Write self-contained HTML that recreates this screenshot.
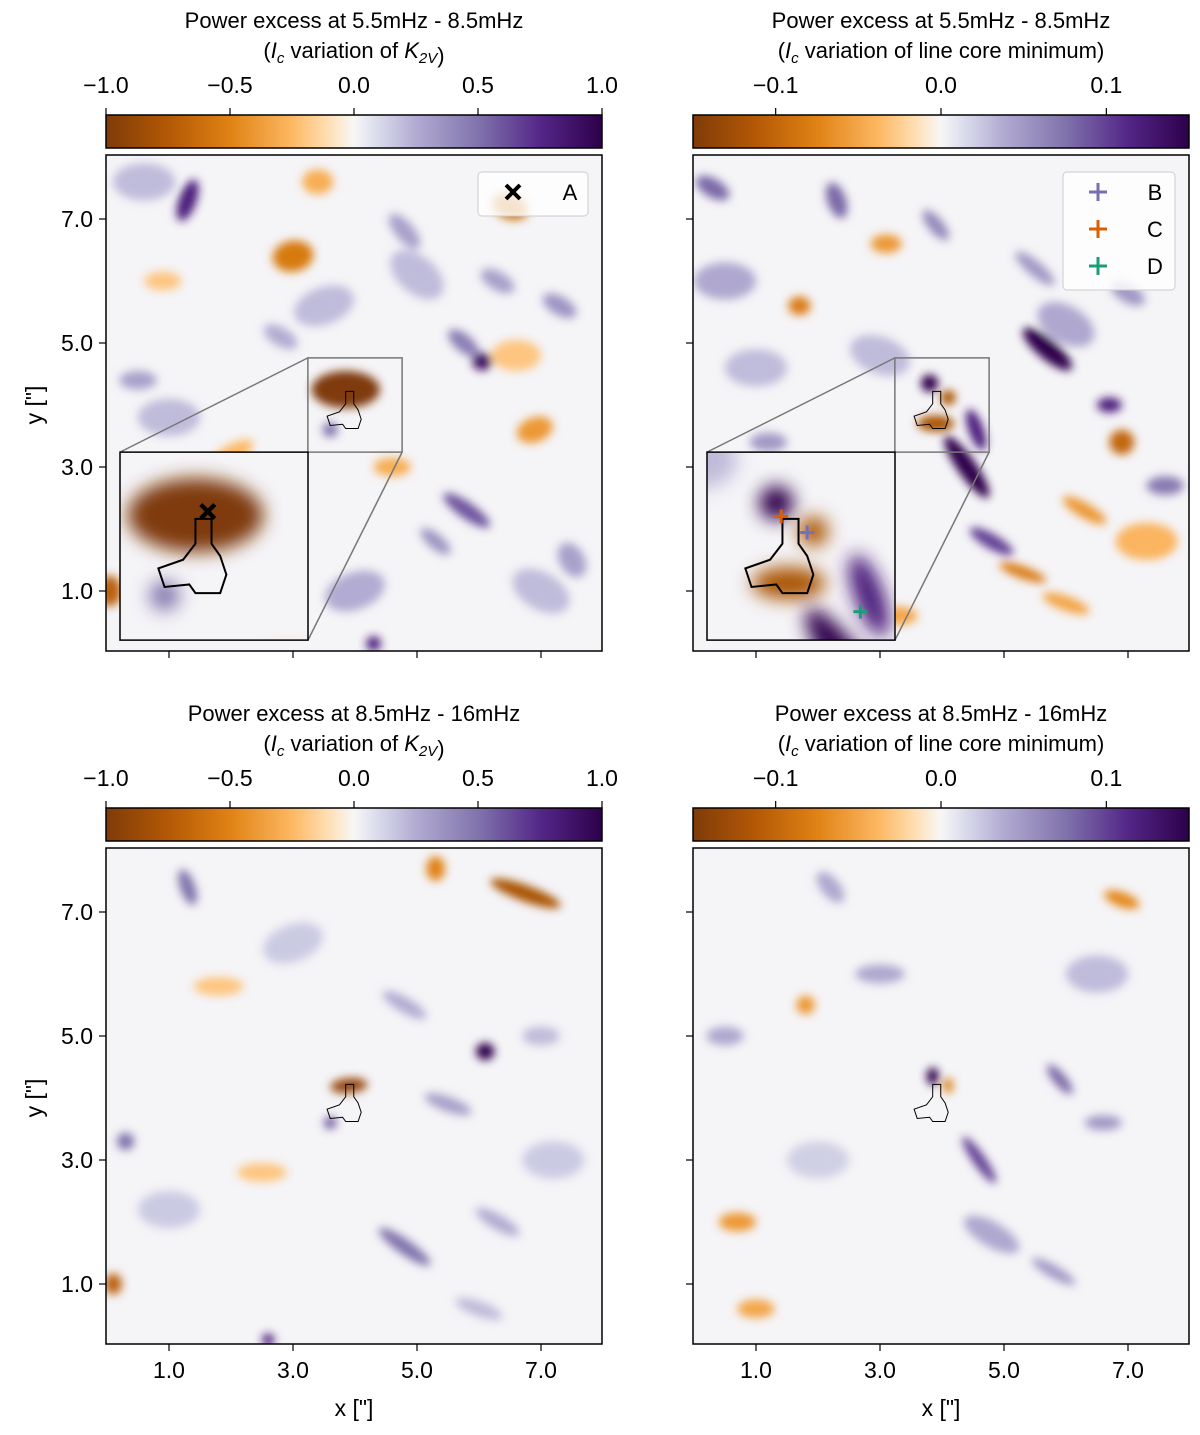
<!DOCTYPE html>
<html><head><meta charset="utf-8">
<style>
html,body{margin:0;padding:0;background:#fff;}
svg{display:block;font-family:"Liberation Sans","DejaVu Sans",sans-serif;}
</style></head>
<body>
<svg id="fig" width="1200" height="1435" viewBox="0 0 1200 1435" xmlns="http://www.w3.org/2000/svg">
<defs>
<linearGradient id="cmap" x1="0" x2="1" y1="0" y2="0">
<stop offset="0" stop-color="#7f3b08"/><stop offset="0.125" stop-color="#b35806"/>
<stop offset="0.25" stop-color="#e08214"/><stop offset="0.375" stop-color="#fdb863"/>
<stop offset="0.45" stop-color="#fee0b6"/><stop offset="0.5" stop-color="#f7f7f7"/>
<stop offset="0.55" stop-color="#d8daeb"/><stop offset="0.625" stop-color="#b2abd2"/>
<stop offset="0.75" stop-color="#8073ac"/><stop offset="0.875" stop-color="#542788"/>
<stop offset="1" stop-color="#2d004b"/>
</linearGradient>
<filter id="blur" x="-50%" y="-50%" width="200%" height="200%"><feGaussianBlur stdDeviation="4.5"/></filter>
</defs>
</svg>
<script>
// ---- data: blob maps (x, y in arcsec; value in colorbar units) ----
const tlX=[1.3,3.0,6.5,6.05,5.75,3.85,3.6,5.8,4.3,0.05,6.9,2.0,0.5,4.8,7.3,2.5,5.3,1.5,3.4,6.3,0.9,7.5,4.6,2.8,1.0,3.5,7.0,2.2,5.0,0.6,6.6,4.0];
const tlY=[7.3,6.4,7.2,4.7,5.0,4.25,3.6,2.3,0.15,1.0,3.6,3.2,4.4,6.8,5.6,1.3,1.8,0.8,7.6,6.0,6.0,1.5,3.0,5.1,3.8,5.6,1.0,2.2,6.1,7.6,4.8,1.0];
const tlV=[0.8,-0.55,-0.6,0.9,0.45,-1.0,0.5,0.6,0.8,-0.7,-0.4,-0.25,0.3,0.3,0.35,-0.3,0.35,0.3,-0.3,0.3,-0.2,0.3,-0.3,0.25,0.2,0.2,0.2,0.2,0.2,0.2,-0.2,0.25];
const tlR=[0.35,0.33,0.3,0.16,0.3,0.55,0.12,0.45,0.12,0.18,0.3,0.4,0.3,0.35,0.3,0.3,0.3,0.3,0.25,0.3,0.3,0.3,0.3,0.3,0.5,0.5,0.5,0.5,0.5,0.5,0.4,0.5];
const tlS=[0.14,0.25,0.2,0.14,0.14,0.3,0.12,0.13,0.12,0.25,0.2,0.15,0.15,0.15,0.15,0.15,0.12,0.2,0.2,0.15,0.15,0.2,0.15,0.15,0.3,0.3,0.3,0.3,0.3,0.3,0.25,0.3];
const tlA=[70,10,-20,0,-40,0,0,-35,0,0,20,30,0,-50,-30,0,-40,0,0,-30,0,-60,0,-30,0,20,-30,0,-40,0,0,20];

const trX=[5.7,4.4,3.8,4.1,3.9,6.9,6.7,1.7,3.1,0.3,2.3,3.9,4.8,5.3,6.3,7.6,5.5,1.2,2.6,6.0,0.8,7.0,3.3,4.55,1.0,2.0,6.0,7.3,3.0,0.5];
const trY=[4.9,3.0,4.35,4.12,3.7,3.4,4.0,5.6,6.6,7.5,7.3,6.9,1.8,1.3,2.3,2.7,6.2,3.4,2.0,0.8,1.0,5.8,0.6,3.6,4.6,1.0,5.3,1.8,4.8,6.0];
const trV=[0.15,0.15,0.15,-0.12,-0.12,-0.1,0.12,-0.08,-0.06,0.08,0.08,0.06,0.1,-0.08,-0.06,0.07,0.05,0.05,-0.05,-0.05,0.05,0.05,-0.05,0.12,0.03,0.03,0.04,-0.04,0.03,0.04];
const trR=[0.5,0.6,0.14,0.12,0.3,0.2,0.2,0.18,0.25,0.3,0.3,0.3,0.4,0.4,0.4,0.3,0.4,0.3,0.3,0.4,0.3,0.3,0.3,0.35,0.5,0.5,0.5,0.5,0.5,0.5];
const trS=[0.16,0.15,0.14,0.12,0.13,0.2,0.12,0.15,0.15,0.15,0.15,0.12,0.12,0.1,0.12,0.15,0.12,0.15,0.15,0.12,0.15,0.15,0.15,0.12,0.3,0.3,0.3,0.3,0.3,0.3];
const trA=[-40,-55,0,0,0,0,0,0,0,-30,-70,-50,-30,-20,-30,0,-40,0,0,-20,0,-30,0,-70,0,20,-30,0,-20,0];

const blX=[6.75,5.3,3.9,6.1,1.3,0.3,4.8,0.1,2.6,3.6,5.5,4.8,1.8,6.3,7.0,2.5,6.0,1.0,3.0,7.2];
const blY=[7.3,7.7,4.2,4.75,7.4,3.3,1.6,1.0,0.1,3.6,3.9,5.5,5.8,2.0,5.0,2.8,0.6,2.2,6.5,3.0];
const blV=[-0.8,-0.5,-0.9,1.0,0.5,0.5,0.5,-0.7,0.8,0.6,0.3,0.25,-0.2,0.25,0.2,-0.2,0.2,0.15,0.15,0.15];
const blR=[0.6,0.15,0.3,0.15,0.3,0.14,0.5,0.14,0.1,0.1,0.4,0.4,0.4,0.4,0.3,0.4,0.4,0.5,0.5,0.5];
const blS=[0.13,0.2,0.12,0.14,0.12,0.14,0.12,0.17,0.1,0.1,0.12,0.12,0.15,0.12,0.15,0.15,0.12,0.3,0.3,0.3];
const blA=[-20,0,5,0,-70,0,-35,0,0,0,-20,-30,0,-30,0,0,-20,0,20,0];

const brX=[3.85,4.1,4.6,6.9,1.8,5.9,0.7,1.0,5.8,3.0,6.6,2.2,0.5,2.0,6.5,4.8];
const brY=[4.35,4.2,3.0,7.2,5.5,4.3,2.0,0.6,1.2,6.0,3.6,7.4,5.0,3.0,6.0,1.8];
const brV=[0.15,-0.08,0.1,-0.07,-0.06,0.08,-0.06,-0.05,0.05,0.04,0.05,0.04,0.04,0.02,0.03,0.04];
const brR=[0.1,0.08,0.45,0.3,0.15,0.3,0.3,0.3,0.4,0.4,0.3,0.3,0.3,0.5,0.5,0.5];
const brS=[0.14,0.12,0.1,0.12,0.15,0.1,0.15,0.15,0.1,0.15,0.12,0.15,0.15,0.3,0.3,0.2];
const brA=[0,0,-55,-20,0,-50,0,0,-30,0,0,-50,0,0,0,-30];

const contourX=[3.85,3.98,3.98,4.05,4.1,4.05,3.85,3.8,3.6,3.55,3.75,3.85];
const contourY=[4.22,4.22,4.02,3.92,3.77,3.62,3.62,3.69,3.67,3.82,3.89,4.02];
const xTicks=[1.0,3.0,5.0,7.0];
const yTicks=[1.0,3.0,5.0,7.0];
const cbTicksK=[-1.0,-0.5,0.0,0.5,1.0];
const cbTicksL=[-0.1,0.0,0.1];

// ---- rendering ----
const NS="http://www.w3.org/2000/svg";
const fig=document.getElementById('fig');
function el(tag,attrs,parent){const e=document.createElementNS(NS,tag);for(const k in attrs)e.setAttribute(k,attrs[k]);(parent||fig).appendChild(e);return e;}
const stops=[[0,[127,59,8]],[0.125,[179,88,6]],[0.25,[224,130,20]],[0.375,[253,184,99]],[0.45,[254,224,182]],[0.5,[247,247,247]],[0.55,[216,218,235]],[0.625,[178,171,210]],[0.75,[128,115,172]],[0.875,[84,39,136]],[1,[45,0,75]]];
function cmap(t){t=Math.max(0,Math.min(1,t));for(let i=1;i<stops.length;i++){if(t<=stops[i][0]){const a=stops[i-1],b=stops[i];const f=(t-a[0])/(b[0]-a[0]);const c=a[1].map((v,j)=>Math.round(v+(b[1][j]-v)*f));return `rgb(${c[0]},${c[1]},${c[2]})`;}}return 'rgb(45,0,75)';}

function panel(px,py,X,Y,V,R,S,A,vmax,name,opts){
  const W=496,H=496;
  const sx=x=>px+1+x*62, sy=y=>py+498-y*62;
  const clip=el('clipPath',{id:'clip-'+name});
  el('rect',{x:px,y:py,width:W,height:H},clip);
  const g=el('g',{'clip-path':`url(#clip-${name})`});
  
  
  function drawMap(parent){
    el('rect',{x:px,y:py,width:W,height:H,fill:'#f5f4f7'},parent);
    const bg=el('g',{filter:'url(#blur)'},parent);
    for(let i=0;i<X.length;i++){
      const e=el('ellipse',{cx:sx(X[i]),cy:sy(Y[i]),rx:R[i]*62,ry:S[i]*62,fill:cmap(0.5+V[i]/vmax/2),transform:`rotate(${-A[i]} ${sx(X[i])} ${sy(Y[i])})`},bg);
      
      
    }
    const pts=contourX.map((x,i)=>sx(x)+','+sy(contourY[i])).join(' ');
    const c=el('polygon',{points:pts,fill:'none',stroke:'#000','stroke-width':1},parent);
    
    
  }
  drawMap(g);
  if(opts.inset){
    const bx0=3.24,bx1=4.76;
    const r=el('rect',{x:sx(bx0),y:sy(bx1),width:(bx1-bx0)*62,height:(bx1-bx0)*62,fill:'none',stroke:'#777','stroke-width':1.5});
    
    
    const ix=px+14,iy=sy(bx0),iw=188;
    el('line',{x1:ix,y1:iy,x2:sx(bx0),y2:sy(bx1),stroke:'#777','stroke-width':1.5});
    el('line',{x1:ix+iw,y1:iy+iw,x2:sx(bx1),y2:sy(bx0),stroke:'#777','stroke-width':1.5});
    const s=el('svg',{x:ix,y:iy,width:iw,height:iw,viewBox:`${sx(bx0)} ${sy(bx1)} ${(bx1-bx0)*62} ${(bx1-bx0)*62}`});
    
    
    drawMap(s);
    opts.inset(s,sx,sy);
    el('rect',{x:ix,y:iy,width:iw,height:iw,fill:'none',stroke:'#000','stroke-width':1.5});
  }
  const fr=el('rect',{x:px,y:py,width:W,height:H,fill:'none',stroke:'#000','stroke-width':1.5});
  
  
  xTicks.forEach(t=>{
    el('line',{x1:sx(t),x2:sx(t),y1:py+H,y2:py+H+7,stroke:'#000','stroke-width':1.2});
    if(opts.xlabels){const tx=el('text',{x:sx(t),y:py+H+34,'text-anchor':'middle','font-size':23},null);tx.textContent=t.toFixed(1);}
  });
  yTicks.forEach(t=>{
    el('line',{x1:px,x2:px-7,y1:sy(t),y2:sy(t),stroke:'#000','stroke-width':1.2});
    if(opts.ylabels){const tx=el('text',{x:px-13,y:sy(t)+8,'text-anchor':'end','font-size':23});tx.textContent=t.toFixed(1);}
  });
  if(opts.ylabels){const t=el('text',{x:0,y:0,transform:`translate(42 ${py+250}) rotate(-90)`,'text-anchor':'middle','font-size':23});t.textContent='y ["]';}
  if(opts.xlabels){const t=el('text',{x:px+248,y:py+H+72,'text-anchor':'middle','font-size':23});t.textContent='x ["]';}
  const cy=py-40;
  const cb=el('rect',{x:px,y:cy,width:W,height:33,fill:'url(#cmap)',stroke:'#000','stroke-width':1.5});
  
  
  opts.cbTicks.forEach(t=>{
    const x=px+W/2+t/vmax*W/2;
    el('line',{x1:x,x2:x,y1:cy,y2:cy-7,stroke:'#000','stroke-width':1.2});
    const tx=el('text',{x:x,y:cy-22,'text-anchor':'middle','font-size':23});tx.textContent=t.toFixed(1).replace('-','\u2212');
    
  });
  const t1=el('text',{x:px+248,y:py-127,'text-anchor':'middle','font-size':22});t1.textContent=opts.title;
  
  const t2=el('text',{x:px+248,y:py-97,'text-anchor':'middle','font-size':22});
  
  t2.innerHTML='(<tspan font-style="italic">I</tspan><tspan font-style="italic" font-size="15" dy="5">c</tspan><tspan dy="-5"> variation of '+opts.sub+')</tspan>';
  return {sx,sy};
}
function cross(x,y,s,w,parent,name){const g=el('g',{stroke:'#000','stroke-width':w},parent);
  el('line',{x1:x-s,y1:y-s,x2:x+s,y2:y+s},g);el('line',{x1:x-s,y1:y+s,x2:x+s,y2:y-s},g);}
function plus(x,y,s,w,col,parent,name){const g=el('g',{stroke:col,'stroke-width':w},parent);
  el('line',{x1:x-s,y1:y,x2:x+s,y2:y},g);el('line',{x1:x,y1:y-s,x2:x,y2:y+s},g);}
const K2V='<tspan font-style="italic">K</tspan><tspan font-style="italic" font-size="15" dy="5">2V</tspan><tspan dy="-5"></tspan>';

panel(106,155,tlX,tlY,tlV,tlR,tlS,tlA,1,'top-left',{ylabels:true,cbTicks:cbTicksK,title:'Power excess at 5.5mHz - 8.5mHz',sub:K2V,
  inset:(s,sx,sy)=>{cross(sx(3.95),sy(4.28),3.5,2.2,s,'marker-a-inset');}});
panel(693,155,trX,trY,trV,trR,trS,trA,0.15,'top-right',{cbTicks:cbTicksL,title:'Power excess at 5.5mHz - 8.5mHz',sub:'line core minimum',
  inset:(s,sx,sy)=>{plus(sx(3.84),sy(4.24),3.5,1.5,'#d95f02',s,'marker-c');plus(sx(4.05),sy(4.11),3.5,1.5,'#7570b3',s,'marker-b');plus(sx(4.48),sy(3.47),3.5,1.5,'#1b9e77',s,'marker-d');}});
panel(106,848,blX,blY,blV,blR,blS,blA,1,'bottom-left',{ylabels:true,xlabels:true,cbTicks:cbTicksK,title:'Power excess at 8.5mHz - 16mHz',sub:K2V});
panel(693,848,brX,brY,brV,brR,brS,brA,0.15,'bottom-right',{xlabels:true,cbTicks:cbTicksL,title:'Power excess at 8.5mHz - 16mHz',sub:'line core minimum'});

const lg1=el('rect',{x:478,y:172,width:110,height:44,rx:4,fill:'rgba(255,255,255,0.8)',stroke:'#ccc'});

cross(513,192,7,4,fig,'legend-marker-a');
let t=el('text',{x:570,y:200,'text-anchor':'middle','font-size':22});t.textContent='A';
const lg2=el('rect',{x:1063,y:172,width:112,height:118,rx:4,fill:'rgba(255,255,255,0.8)',stroke:'#ccc'});

[['B','#7570b3',192],['C','#d95f02',229],['D','#1b9e77',266]].forEach(([n,c,y])=>{
  plus(1098,y,9,3,c,fig,'legend-marker-'+n.toLowerCase());
  const tx=el('text',{x:1155,y:y+8,'text-anchor':'middle','font-size':22});tx.textContent=n;
  
});
</script>
</body></html>
